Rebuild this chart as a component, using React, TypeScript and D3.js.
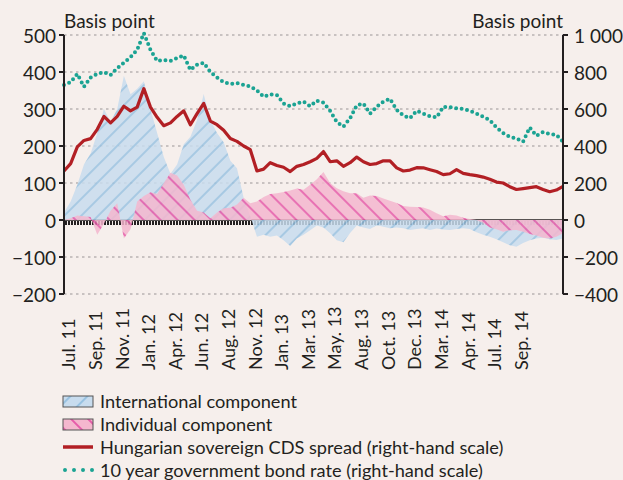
import React from "react";
import * as d3 from "d3";

// month labels under the axis (evenly spaced, category style)
const monthLabels = ['Jul. 11', 'Sep. 11', 'Nov. 11', 'Jan. 12', 'Apr. 12', 'Jun. 12', 'Aug. 12', 'Nov. 12', 'Jan. 13',
  'Mar. 13', 'May. 13', 'Aug. 13', 'Oct. 13', 'Dec. 13', 'Mar. 14', 'Apr. 14', 'Jul. 14', 'Sep. 14'];

// international component (left scale, bp)
const international = [20, 50, 95, 150, 180, 235, 300, 265, 300, 390, 340, 355, 375, 300, 235, 170, 125, 150, 205, 225,
  270, 340, 270, 235, 210, 160, 140, 60, 10, -45, -40, -45, -42, -55, -70, -50, -40, -28, -15, -20,
  -36, -55, -60, -35, -15, -20, -24, -14, -18, -22, -20, -22, -27, -24, -22, -27, -23, -26, -27, -24,
  -22, -24, -33, -40, -45, -52, -60, -68, -72, -62, -55, -50, -48, -52, -54, -50];

// individual component (left scale, bp)
const individual = [0, 5, 12, 10, 8, -40, -10, 25, 45, -50, -25, 50, 65, 75, 70, 100, 128, 120, 95, 55,
  25, 20, 5, 20, 32, 33, 42, 60, 45, 50, 62, 70, 72, 76, 80, 85, 82, 95, 110, 130,
  100, 86, 78, 72, 72, 60, 66, 65, 58, 52, 46, 38, 36, 35, 34, 28, 18, 10, 14, 12,
  6, 3, 0, -8, -20, -25, -32, -28, -27, -32, -38, -42, -48, -50, -45, -36];

// Hungarian sovereign CDS spread (right scale)
const cds = [265, 305, 395, 430, 440, 490, 560, 525, 560, 615, 590, 610, 710, 610, 555, 510, 525, 560, 590, 515,
  575, 630, 535, 515, 485, 440, 425, 400, 380, 265, 275, 310, 295, 285, 262, 290, 300, 315, 333, 370,
  315, 320, 290, 310, 340, 315, 300, 305, 320, 320, 282, 265, 270, 283, 282, 272, 262, 245, 250, 272,
  252, 245, 240, 232, 220, 205, 200, 180, 165, 170, 175, 180, 165, 153, 162, 182];

// 10 year government bond rate (right scale)
const bond = [730, 745, 790, 720, 770, 790, 800, 784, 820, 850, 880, 920, 1010, 920, 860, 865, 860, 875, 890, 811,
  840, 850, 800, 770, 745, 735, 740, 730, 722, 700, 666, 680, 675, 630, 615, 630, 640, 615, 645, 635,
  590, 530, 505, 550, 620, 630, 575, 612, 640, 655, 595, 565, 550, 590, 575, 560, 555, 612, 610, 604,
  600, 590, 575, 558, 540, 500, 470, 450, 440, 423, 500, 455, 475, 465, 460, 423];

const leftTicks = [-200, -100, 0, 100, 200, 300, 400, 500];
const rightTicks = [-400, -200, 0, 200, 400, 600, 800, 1000];

const legendItems = [
  { key: 'int', label: 'International component' },
  { key: 'ind', label: 'Individual component' },
  { key: 'cds', label: 'Hungarian sovereign CDS spread (right-hand scale)' },
  { key: 'bond', label: '10 year government bond rate (right-hand scale)' },
];

const W = 623;
const H = 480;
const BG = '#f6efec';
const INK = '#231f20';
const RED = '#b21f24';
const TEAL = '#1ba393';
const FONT = 'Lato, "Open Sans", sans-serif';

const plot = { left: 64, right: 563, top: 35, bottom: 294 };

export default function App() {
  const x = d3.scaleLinear().domain([0, cds.length - 1]).range([plot.left, plot.right]);
  const yL = d3.scaleLinear().domain([-200, 500]).range([plot.bottom, plot.top]);
  const yR = d3.scaleLinear().domain([-400, 1000]).range([plot.bottom, plot.top]);

  const area = (vals: number[]) =>
    d3.area<number>().x((d, i) => x(i)).y0(yL(0)).y1(d => yL(d))(vals) || '';
  const rLine = d3.line<number>().x((d, i) => x(i)).y(d => yR(d));

  // weekly tick comb under the zero line
  const combTicks = d3.range(plot.left + 1, plot.right, 3);
  const fmtR = (v: number) => d3.format(',')(v).replace(',', ' ');

  return (
    <svg width={W} height={H} style={{ position: 'absolute', left: 0, top: 0, background: BG }} fontFamily={FONT}>
      <defs>
        <pattern id="hatchBlue" patternUnits="userSpaceOnUse" width="12" height="12" patternTransform="rotate(-45)">
          <rect width="12" height="12" fill="#c8dcee" />
          <line x1="0" y1="6" x2="12" y2="6" stroke="#7fb4db" strokeWidth="1.3" />
        </pattern>
        <pattern id="hatchPink" patternUnits="userSpaceOnUse" width="12" height="12" patternTransform="rotate(45)">
          <rect width="12" height="12" fill="#f4b7ce" />
          <line x1="0" y1="6" x2="12" y2="6" stroke="#e0369b" strokeWidth="1.4" />
        </pattern>
      </defs>
      <rect width={W} height={H} fill={BG} />

      {/* grid */}
      {leftTicks.filter(t => t !== 0).map(t => (
        <line key={t} x1={plot.left} x2={plot.right} y1={yL(t)} y2={yL(t)} stroke="#9a9595" strokeWidth={1.2} strokeDasharray="2.5 3.5" />
      ))}

      {/* tick comb */}
      {combTicks.map(cx => (
        <rect key={cx} x={cx} y={yL(0) + 1} width={2} height={4} fill={INK} />
      ))}
      <line x1={plot.left} x2={plot.right} y1={yL(0)} y2={yL(0)} stroke={INK} strokeWidth={1.5} />

      {/* areas */}
      <path d={area(international)} fill="url(#hatchBlue)" opacity={0.85} />
      <path d={area(individual)} fill="url(#hatchPink)" opacity={0.85} />

      {/* lines */}
      <path d={rLine(cds) || ''} fill="none" stroke={RED} strokeWidth={3.2} strokeLinejoin="round" />
      <path d={rLine(bond) || ''} fill="none" stroke={TEAL} strokeWidth={4} strokeLinecap="round" strokeDasharray="0 5.5" />

      {/* left axis */}
      <line x1={plot.left} x2={plot.left} y1={plot.top} y2={plot.bottom} stroke={INK} strokeWidth={2} />
      {leftTicks.map(t => (
        <g key={t}>
          <line x1={plot.left - 5} x2={plot.left} y1={yL(t)} y2={yL(t)} stroke={INK} strokeWidth={2} />
          <text x={plot.left - 8} y={yL(t)} textAnchor="end" dominantBaseline="central" fontSize={19} fill={INK}>
            {d3.format('')(t)}
          </text>
        </g>
      ))}
      {/* right axis */}
      <line x1={plot.right} x2={plot.right} y1={plot.top} y2={plot.bottom} stroke={INK} strokeWidth={2} />
      {rightTicks.map(t => (
        <g key={t}>
          <line x1={plot.right} x2={plot.right + 5} y1={yR(t)} y2={yR(t)} stroke={INK} strokeWidth={2} />
          <text x={plot.right + 11} y={yR(t)} textAnchor="start" dominantBaseline="central" fontSize={19} fill={INK}>
            {fmtR(t)}
          </text>
        </g>
      ))}
      <text x={plot.left} y={28} fontSize={19} fill={INK}>Basis point</text>
      <text x={plot.right} y={28} fontSize={19} fill={INK} textAnchor="end">Basis point</text>

      {/* month labels */}
      {monthLabels.map((m, i) => (
        <text key={m} transform={`translate(${x(0.65 + 4 * i)},370) rotate(-90)`} dominantBaseline="central"
          fontSize={18} fill={INK}>{m}</text>
      ))}

      {/* legend */}
      {legendItems.map((it, i) => {
        const ly = 401 + i * 23;
        return (
          <g key={it.key}>
            {it.key === 'int' && <rect x={63} y={ly - 5} width={30} height={11} fill="url(#hatchBlue)" stroke="#555" strokeWidth={1} />}
            {it.key === 'ind' && <rect x={63} y={ly - 5} width={30} height={11} fill="url(#hatchPink)" stroke="#555" strokeWidth={1} />}
            {it.key === 'cds' && <line x1={63} x2={93} y1={ly} y2={ly} stroke={RED} strokeWidth={3.5} />}
            {it.key === 'bond' && <line x1={65} x2={93} y1={ly} y2={ly} stroke={TEAL} strokeWidth={4} strokeLinecap="round" strokeDasharray="0 9" />}
            <text x={100} y={ly} dominantBaseline="central" fontSize={18.2} fill={INK}>{it.label}</text>
          </g>
        );
      })}
    </svg>
  );
}
